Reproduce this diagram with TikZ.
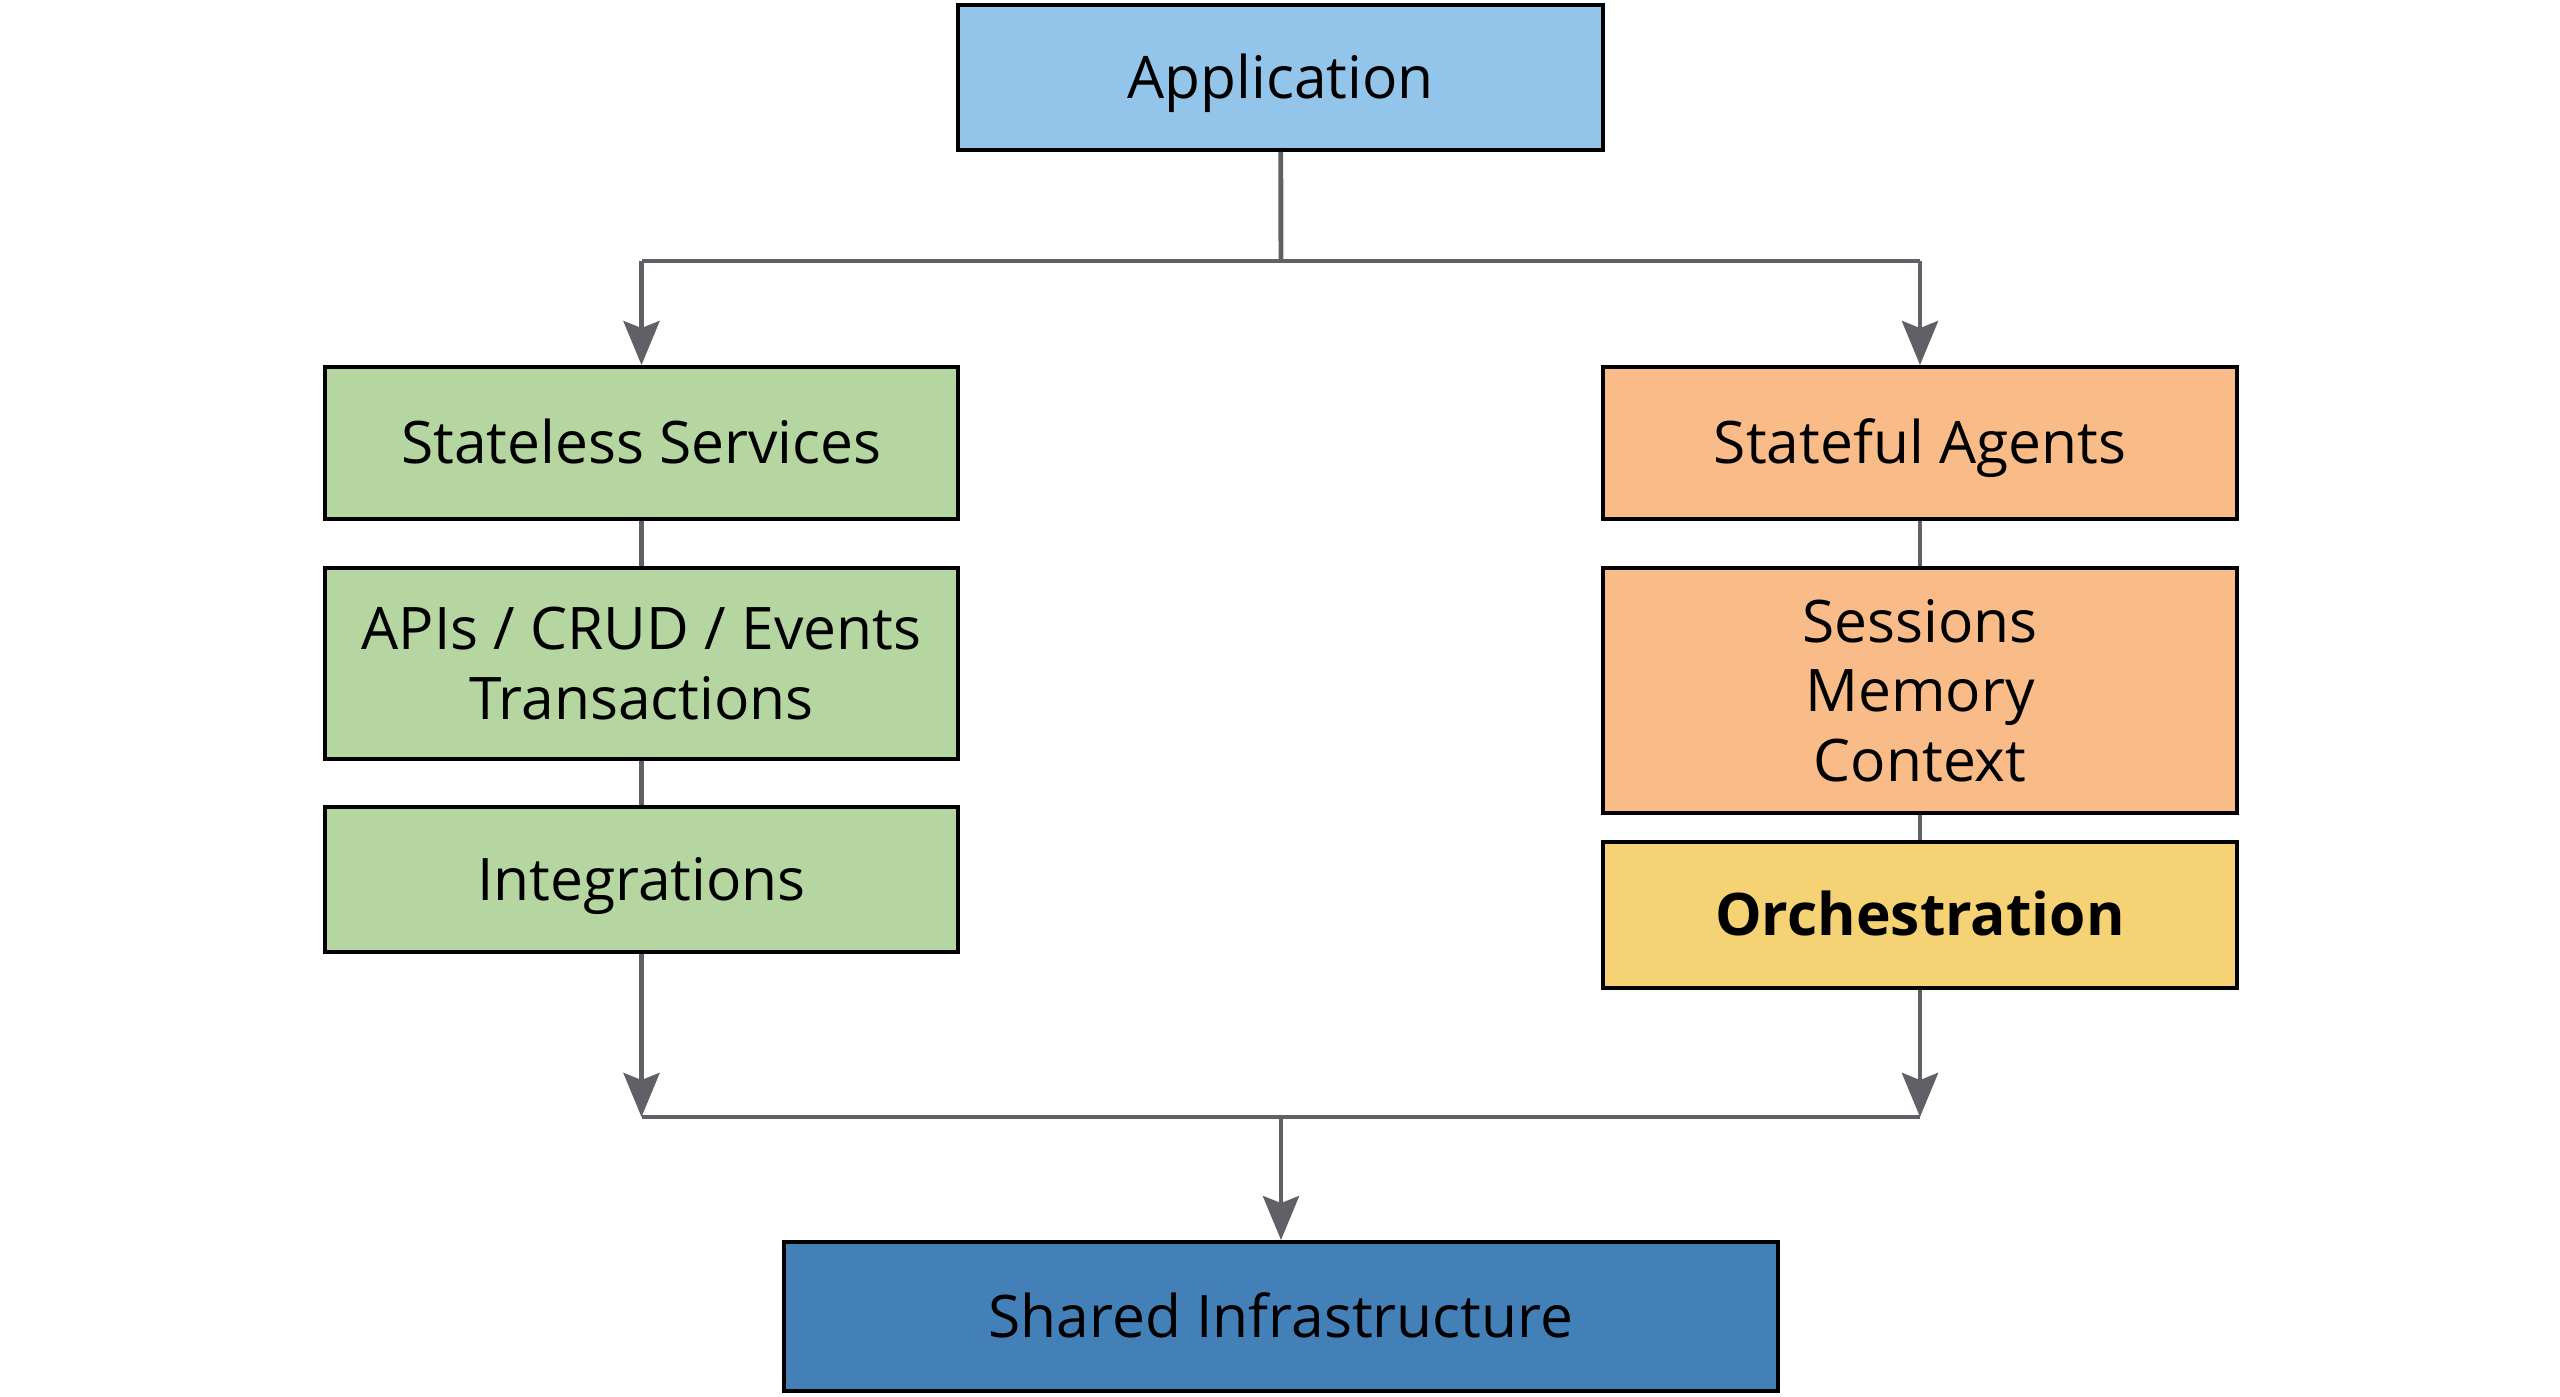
\documentclass[tikz,border=0pt]{standalone}
\usepackage{fontspec}
\setmainfont{Open Sans}
\usepackage{xcolor}
\usepackage{tikz}
\usetikzlibrary{positioning,calc,arrows.meta}
\definecolor{appblue}{HTML}{93C5EA}
\definecolor{svcgreen}{HTML}{B5D6A0}
\definecolor{agtorange}{HTML}{F9BB87}
\definecolor{orchyellow}{HTML}{F5D273}
\definecolor{infrablue}{HTML}{4380B8}
\definecolor{linkgray}{HTML}{5F6166}

\begin{document}
\begin{tikzpicture}[
  layer/.style={rectangle, draw=black, line width=1.1pt, align=center,
    inner sep=0pt, font=\fontsize{16.7}{19.7}\selectfont},
  oneline/.style={text height=11.9pt, text depth=0pt},
  link/.style={draw=linkgray, line width=1.4pt},
  flow/.style={link, -{Stealth[length=4.4mm, width=3.6mm, inset=0.7mm]}},
]
\useasboundingbox (0,0) rectangle (25.6,-13.96);
\def\xL{6.415}\def\xR{19.20}\def\xM{12.81}
% top and tiers
\node[layer, oneline, fill=appblue, minimum width=6.45cm, minimum height=1.45cm] (app) at (12.805,-0.775) {Application};
\node[layer, oneline, fill=svcgreen, minimum width=6.33cm, minimum height=1.52cm] (sless) at (\xL,-4.43) {Stateless Services};
\node[layer, fill=svcgreen, minimum width=6.33cm, minimum height=1.91cm] (apis) at (\xL,-6.635) {APIs / CRUD / Events\\Transactions};
\node[layer, oneline, fill=svcgreen, minimum width=6.33cm, minimum height=1.45cm] (integ) at (\xL,-8.795) {Integrations};
\node[layer, oneline, fill=agtorange, minimum width=6.34cm, minimum height=1.52cm] (sful) at (\xR,-4.43) {Stateful Agents};
\node[layer, fill=agtorange, minimum width=6.34cm, minimum height=2.45cm] (sess) at (\xR,-6.905) {Sessions\\Memory\\Context};
\node[layer, oneline, fill=orchyellow, minimum width=6.34cm, minimum height=1.46cm, font=\fontsize{16.7}{19.7}\selectfont\bfseries] (orch) at (\xR,-9.15) {Orchestration};
\node[layer, oneline, fill=infrablue, minimum width=9.94cm, minimum height=1.49cm] (infra) at (\xM,-13.165) {Shared Infrastructure};
\coordinate (split) at (\xM,-2.61);
\coordinate (join) at (\xM,-11.17);

% fan out
\draw[link] (app) -- (split);
\draw[link] (sless.north |- split) -- (sful.north |- split);
\draw[flow] (sless.north |- split) -- (sless);
\draw[flow] (sful.north |- split) -- (sful);
% stacks
\draw[link] (sless) -- (apis);
\draw[link] (apis) -- (integ);
\draw[link] (sful) -- (sess);
\draw[link] (sess) -- (orch);
% merge
\draw[flow] (integ) -- (integ.south |- join);
\draw[flow] (orch) -- (orch.south |- join);
\draw[link] (integ.south |- join) -- (orch.south |- join);
\draw[flow] (join) -- (infra);
\end{tikzpicture}
\end{document}
